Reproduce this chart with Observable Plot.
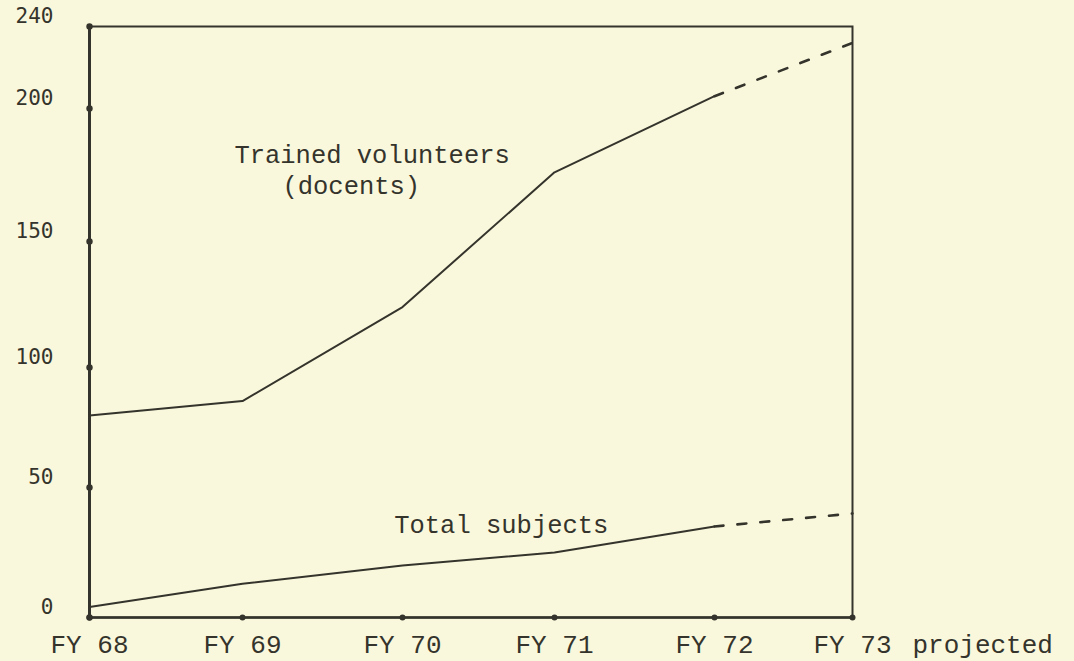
<!DOCTYPE html>
<html><head><meta charset="utf-8">
<script src="https://cdn.jsdelivr.net/npm/d3@7"></script>
<script src="https://cdn.jsdelivr.net/npm/@observablehq/plot@0.6"></script>
<style>
html,body{margin:0;padding:0;background:#faf8dc;}
#chart{width:1074px;height:661px;overflow:hidden;}
</style></head>
<body><div id="chart"></div>
<script>
// ---- data ----
const years = [68, 69, 70, 71, 72, 73];
const yearLabels = ["FY 68", "FY 69", "FY 70", "FY 71", "FY 72", "FY 73"];
const volunteers = [80, 86, 124, 176, 206, 232];   // Trained volunteers (docents)
const subjects = [4, 13, 20, 25, 35, 40];          // Total subjects
const yTicks = [0, 50, 100, 150, 200, 240];
const lastActualYear = 72;                          // FY 73 is projected
const projectedNote = "projected";
const volunteerLabel = ["Trained volunteers", "(docents)"];
const subjectLabel = "Total subjects";

// ---- build rows ----
function rows(values, series) {
  return years.map((year, i) => ({year, value: values[i], series}));
}
const all = [...rows(volunteers, "volunteers"), ...rows(subjects, "subjects")];
const actual = all.filter(d => d.year <= lastActualYear);
const projected = all.filter(d => d.year >= lastActualYear);

const ink = "#35342c";
const mono = "Liberation Mono, Courier New, monospace";
const sansMono = "DejaVu Sans Mono, monospace";

const chart = Plot.plot({
  width: 1074,
  height: 661,
  marginLeft: 89,
  marginRight: 222,
  marginTop: 26,
  marginBottom: 44,
  style: {background: "#faf8dc", color: ink, fontFamily: mono, overflow: "visible"},
  // the hand-drawn graph paper is not evenly spaced: piecewise scales follow its grid
  x: {type: "linear", domain: years, range: [89, 242, 402, 554, 714, 852]},
  y: {type: "linear", domain: yTicks, range: [617, 487, 367, 241, 108, 26]},
  marks: [
    Plot.frame({stroke: ink, strokeWidth: 2}),
    Plot.ruleX([years[0]], {stroke: ink, strokeWidth: 3}),
    Plot.ruleY([0], {stroke: ink, strokeWidth: 2.5}),
    Plot.dot(yTicks, {x: () => years[0], y: d => d, r: 3.2, fill: ink, stroke: null}),
    Plot.dot(years, {x: d => d, y: () => 0, r: 3, fill: ink, stroke: null}),
    Plot.line(actual, {x: "year", y: "value", z: "series", stroke: ink, strokeWidth: 2}),
    Plot.line(projected, {x: "year", y: "value", z: "series", stroke: ink, strokeWidth: 2.6,
      strokeDasharray: "9,14", strokeLinecap: "round"}),
    Plot.text([volunteerLabel[0]], {x: () => 69.81, y: () => 182.5, text: d => d,
      fontFamily: mono, fontSize: 25.5, fill: ink, textAnchor: "middle"}),
    Plot.text([volunteerLabel[1]], {x: () => 69.68, y: () => 171, text: d => d,
      fontFamily: mono, fontSize: 25.5, fill: ink, textAnchor: "middle"}),
    Plot.text([subjectLabel], {x: () => 70.65, y: () => 35.8, text: d => d,
      fontFamily: mono, fontSize: 25.5, fill: ink, textAnchor: "middle"}),
    Plot.axisY({ticks: yTicks, tickSize: 0, tickPadding: 36, dy: -10, tickFormat: d => String(d),
      fontFamily: sansMono, fontSize: 21, label: null}),
    Plot.axisX({ticks: years, tickSize: 0, tickPadding: 17, tickFormat: d => yearLabels[years.indexOf(d)],
      fontFamily: mono, fontSize: 26, label: null}),
    Plot.text([projectedNote], {x: () => years[years.length - 1], y: () => 0, text: d => d,
      fontFamily: mono, fontSize: 26, fill: ink, textAnchor: "start", dx: 60, dy: 27})
  ]
});
document.getElementById("chart").appendChild(chart);
</script>
</body></html>
